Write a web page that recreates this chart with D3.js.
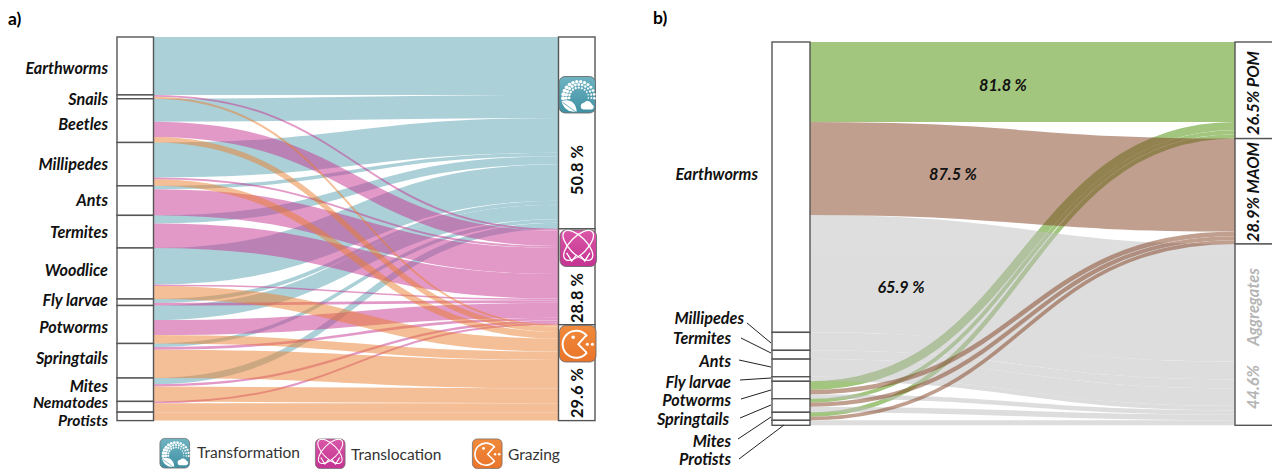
<!DOCTYPE html>
<html>
<head>
<meta charset="utf-8">
<script src="https://cdn.jsdelivr.net/npm/d3@7"></script>
<style>
    body { margin: 0; background: #fff; overflow: hidden; }
    text { font-family: Lato, "Open Sans", sans-serif; }
    .taxon { font-size: 16.2px; font-weight: 700; font-style: italic; fill: #111; }
    .share { font-size: 16.4px; font-weight: 700; fill: #111; }
    .legend-label { font-size: 15.5px; fill: #333; }
    .node { fill: #fff; stroke: #555; stroke-width: 1.4; }
    .leader { stroke: #222; stroke-width: 1; }
</style>
</head>
<body>
<svg id="chart" width="1272" height="469"></svg>
<script>
// panel a, share of the total flow (%) per taxon
var taxaA = ["Earthworms", "Snails", "Beetles", "Millipedes", "Ants", "Termites", "Woodlice", "Fly larvae", "Potworms", "Springtails", "Mites", "Nematodes", "Protists"];
var transformation = [15.1, 0, 6.0, 9.1, 0.9, 2.1, 9.5, 1.0, 3.8, 0.9, 1.6, 0, 0];
var translocation = [0, 0.5, 4.0, 0.5, 6.8, 6.4, 0.4, 0.7, 3.9, 0.7, 0.6, 0.5, 0];
var grazing = [0, 0.5, 1.4, 1.7, 0, 0, 3.4, 0, 2.2, 7.4, 3.9, 2.3, 2.2];

// panel b, same idea
var taxaB = ["Earthworms", "Millipedes", "Termites", "Ants", "Fly larvae", "Potworms", "Springtails", "Mites", "Protists"];
var pom = [20.9, 0, 0, 0, 0, 2.2, 1.0, 1.15, 0];
var maom = [24.3, 0, 0, 0, 0, 1.2, 1.1, 0.95, 0];
var aggregates = [30.7, 4.7, 2.3, 4.6, 1.2, 1.15, 1.45, 0, 1.3];

var svg = d3.select("#chart");
var defs = svg.append("defs");

// flows are thick strokes so they keep their width on the steep parts
var flowLink = d3.linkHorizontal()
    .source(function (d) { return [d.x0, d.y0]; })
    .target(function (d) { return [d.x1, d.y1]; });

function drawAlluvial(opts) {
    var g = svg.append("g");
    var total = d3.sum(opts.series, function (s) { return d3.sum(s.values); });
    var y = d3.scaleLinear().domain([0, total]).range(opts.yRange);

    // left stack goes taxon by taxon, right stack series by series
    var leftCum = 0, rightCum = 0;
    var flows = [];
    var taxonEdges = [0];
    opts.taxa.forEach(function (t, i) {
        opts.series.forEach(function (s) {
            flows.push({ s: s, i: i, left: leftCum });
            leftCum += s.values[i];
        });
        taxonEdges.push(leftCum);
    });
    var seriesEdges = [0];
    opts.series.forEach(function (s) {
        flows.filter(function (f) { return f.s === s; }).forEach(function (f) {
            f.right = rightCum;
            rightCum += s.values[f.i];
        });
        seriesEdges.push(rightCum);
    });

    // opacity on the group, bands of one series should not darken each other
    opts.order.forEach(function (k) {
        var s = opts.series[k];
        g.append("g")
            .attr("opacity", 0.5)
            .attr("fill", "none")
            .attr("stroke", s.color)
            .selectAll("path")
            .data(flows.filter(function (f) { return f.s === s && s.values[f.i] > 0; }))
            .enter()
            .append("path")
            .attr("d", function (f) {
                var v = s.values[f.i];
                return flowLink({
                    x0: opts.x0, x1: opts.x1,
                    y0: y(f.left + v / 2), y1: y(f.right + v / 2)
                });
            })
            .attr("stroke-width", function (f) { return y(s.values[f.i]) - y(0); });
    });

    // the two columns
    g.selectAll(".left")
        .data(d3.pairs(taxonEdges))
        .enter()
        .append("rect")
        .attr("class", "node left")
        .attr("x", opts.x0 - opts.nodeW)
        .attr("y", function (d) { return y(d[0]); })
        .attr("width", opts.nodeW)
        .attr("height", function (d) { return y(d[1]) - y(d[0]); });
    g.selectAll(".right")
        .data(d3.pairs(seriesEdges))
        .enter()
        .append("rect")
        .attr("class", "node right")
        .attr("x", opts.x1)
        .attr("y", function (d) { return y(d[0]); })
        .attr("width", opts.nodeW)
        .attr("height", function (d) { return y(d[1]) - y(d[0]); });
    return y;
}

var gradients = {
    teal: ["#6fb3c2", "#3f90a3"],
    pink: ["#d957a8", "#c43391"],
    orange: ["#f08a3c", "#e9742a"]
};
Object.keys(gradients).forEach(function (key) {
    var lg = defs.append("linearGradient").attr("id", "grad-" + key)
        .attr("x1", 0).attr("y1", 0).attr("x2", 0).attr("y2", 1);
    lg.append("stop").attr("offset", "0%").attr("stop-color", gradients[key][0]);
    lg.append("stop").attr("offset", "100%").attr("stop-color", gradients[key][1]);
});

// icons live in a 37 x 37 box
function iconBase(x, y, size, key) {
    var g = svg.append("g").attr("transform", "translate(" + x + "," + y + ") scale(" + size / 37 + ")");
    g.append("rect").attr("x", 0.5).attr("y", 0.5).attr("width", 36).attr("height", 36).attr("rx", 6)
        .attr("fill", "url(#grad-" + key + ")").attr("stroke", "#6d6d6d").attr("stroke-width", 0.9);
    return g;
}

function iconTransformation(x, y, size) {
    var g = iconBase(x, y, size, "teal");
    var rings = [{ r: 9.5, n: 11, s: 0.7 }, { r: 12.5, n: 13, s: 0.9 }, { r: 15.5, n: 14, s: 1.2 }];
    rings.forEach(function (ring) {
        d3.range(ring.n).forEach(function (j) {
            var a = Math.PI * (1.02 - 1.04 * j / (ring.n - 1));
            g.append("circle")
                .attr("cx", 20 + ring.r * Math.cos(a))
                .attr("cy", 21 - ring.r * Math.sin(a))
                .attr("r", ring.s + (ring.n - j) * 0.06)
                .attr("fill", "#fff");
        });
    });
    g.append("path").attr("d", "M3,25 C10,22 17,25 18,35 C11,36 5,33 3,25 Z").attr("fill", "#fff");
    g.append("path").attr("d", "M4,26 L18,36").attr("stroke", "#4f9fb0").attr("stroke-width", 0.8);
    g.append("path").attr("d", "M22,30 C22,26 26,27 27,25 C30,24 32,26 33,28 C36,29 35,33 32,33 L25,33 C23,33 22,32 22,30 Z").attr("fill", "#fff");
}

function iconTranslocation(x, y, size) {
    var g = iconBase(x, y, size, "pink");
    [-45, 45].forEach(function (rot) {
        g.append("ellipse").attr("cx", 18.5).attr("cy", 15.5).attr("rx", 8.5).attr("ry", 19)
            .attr("transform", "rotate(" + rot + " 18.5 16)")
            .attr("fill", "none").attr("stroke", "#fff").attr("stroke-width", 1.2);
    });
    g.append("path").attr("d", "M7,23 L12,31 L17,25 M30,23 L25,31 L20,25")
        .attr("fill", "none").attr("stroke", "#fff").attr("stroke-width", 1.4);
}

function iconGrazing(x, y, size) {
    var g = iconBase(x, y, size, "orange");
    var arc = d3.arc().innerRadius(12.4).outerRadius(14.4)
        .startAngle(Math.PI / 2 + 0.65).endAngle(Math.PI * 2.5 - 0.65);
    g.append("path").attr("d", arc()).attr("transform", "translate(17,19)").attr("fill", "#fff");
    g.append("path").attr("d", "M27,10 L19,19 L27,27").attr("fill", "none").attr("stroke", "#fff").attr("stroke-width", 1.8);
    [[14, 12, 1.7], [28, 19, 1.5], [33, 19, 1.5]].forEach(function (d) {
        g.append("circle").attr("cx", d[0]).attr("cy", d[1]).attr("r", d[2]).attr("fill", "#fff");
    });
}

function vertical(x, y, txt, cls, color, style) {
    var t = svg.append("text").attr("class", cls)
        .attr("transform", "translate(" + x + "," + y + ") rotate(-90)")
        .attr("text-anchor", "middle").attr("dy", "0.35em").text(txt);
    if (color) t.style("fill", color);
    if (style) t.style("font-style", style);
}

// ---- panel a
drawAlluvial({
    taxa: taxaA,
    series: [
        { values: transformation, color: "#59a3b3" },
        { values: translocation, color: "#c73591" },
        { values: grazing, color: "#eb7f2f" }
    ],
    order: [0, 1, 2],
    x0: 153.5, x1: 558.5, nodeW: 36.5,
    yRange: [37, 420.6]
});

var labelYA = [68, 99, 124, 164, 200, 232, 270, 300, 327, 358, 386, 402.5, 421];
svg.selectAll(".labelA")
    .data(taxaA)
    .enter()
    .append("text")
    .attr("class", "taxon labelA")
    .attr("x", 108)
    .attr("y", function (d, i) { return labelYA[i]; })
    .attr("dy", "0.35em")
    .attr("text-anchor", "end")
    .style("font-size", function (d) { return d === "Nematodes" || d === "Protists" ? "15.6px" : null; })
    .text(function (d) { return d; });

iconTransformation(558.5, 76, 37.5);
iconTranslocation(559.5, 229.5, 37.5);
iconGrazing(559, 325, 37.5);
vertical(577, 170, "50.8 %", "share");
vertical(577, 298, "28.8 %", "share");
vertical(577, 393, "29.6 %", "share");

// legend
iconTransformation(159.5, 438, 30.5);
iconTranslocation(315, 438.5, 30.5);
iconGrazing(472, 438.5, 30.5);
svg.append("text").attr("class", "legend-label").attr("x", 197).attr("y", 453).attr("dy", "0.35em").text("Transformation");
svg.append("text").attr("class", "legend-label").attr("x", 351).attr("y", 455).attr("dy", "0.35em").text("Translocation");
svg.append("text").attr("class", "legend-label").attr("x", 508).attr("y", 455).attr("dy", "0.35em").text("Grazing");

// ---- panel b
drawAlluvial({
    taxa: taxaB,
    series: [
        { values: pom, color: "#478f00" },
        { values: maom, color: "#834122" },
        { values: aggregates, color: "#bdbdbd" }
    ],
    order: [0, 2, 1],
    x0: 810, x1: 1235, nodeW: 38,
    yRange: [42, 425.3]
});

svg.append("text").attr("class", "taxon").attr("x", 758).attr("y", 174).attr("dy", "0.35em").attr("text-anchor", "end").text("Earthworms");

// small taxa have a leader line to their box
var labelYB = [318, 338, 361, 382, 400, 419, 441, 459.5];
var labelXB = [744, 731, 731, 731, 731, 729, 731, 731];
var leaderLines = [
    [747, 323, 771, 343], [741, 338, 771, 353], [739, 360, 771, 367], [740, 380, 771, 378],
    [741, 399, 771, 390], [740, 418, 771, 405], [738, 439, 771, 417], [739, 459, 784, 425]
];
svg.selectAll(".labelB")
    .data(taxaB.slice(1))
    .enter()
    .append("text")
    .attr("class", "taxon labelB")
    .attr("x", function (d, i) { return labelXB[i]; })
    .attr("y", function (d, i) { return labelYB[i]; })
    .attr("dy", "0.35em")
    .attr("text-anchor", "end")
    .text(function (d) { return d; });
svg.selectAll(".leader")
    .data(leaderLines)
    .enter()
    .append("line")
    .attr("class", "leader")
    .attr("x1", function (d) { return d[0]; })
    .attr("y1", function (d) { return d[1]; })
    .attr("x2", function (d) { return d[2]; })
    .attr("y2", function (d) { return d[3]; });

var shareLabels = [
    { x: 1003, y: 85, t: "81.8 %" },
    { x: 953, y: 174, t: "87.5 %" },
    { x: 901, y: 287, t: "65.9 %" }
];
svg.selectAll(".flowShare")
    .data(shareLabels)
    .enter()
    .append("text")
    .attr("class", "taxon flowShare")
    .attr("x", function (d) { return d.x; })
    .attr("y", function (d) { return d.y; })
    .attr("dy", "0.35em")
    .attr("text-anchor", "middle")
    .text(function (d) { return d.t; });

vertical(1253, 93, "26.5% POM", "share", null, "italic");
vertical(1253, 192, "28.9% MAOM", "share", null, "italic");
vertical(1253, 307, "Aggregates", "share", "#b5b5b5", "italic");
vertical(1253, 387, "44.6%", "share", "#b5b5b5", "italic");

// panel letters
svg.append("text").attr("x", 8).attr("y", 25).style("font-weight", 700).style("font-size", "17.5px").text("a)");
svg.append("text").attr("x", 653).attr("y", 24).style("font-weight", 700).style("font-size", "17.5px").text("b)");
</script>
</body>
</html>
